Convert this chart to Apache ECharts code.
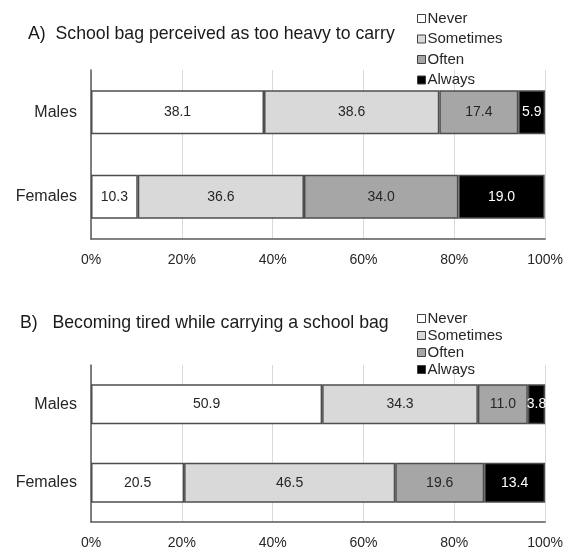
<!DOCTYPE html>
<html>
<head>
<meta charset="utf-8">
<script src="https://cdn.jsdelivr.net/npm/echarts@6/dist/echarts.min.js"></script>
<style>
  html, body { margin: 0; padding: 0; background: #fff; }
  #chart { width: 566px; height: 552px; }
</style>
</head>
<body>
<div id="chart"></div>
<script>
// Response categories and groups
const responses = ['Never', 'Sometimes', 'Often', 'Always'];
const groups = ['Males', 'Females'];
const xTicks = ['0%', '20%', '40%', '60%', '80%', '100%'];

// A) School bag perceived as too heavy to carry (percent)
const heavyNever     = [38.1, 10.3];
const heavySometimes = [38.6, 36.6];
const heavyOften     = [17.4, 34.0];
const heavyAlways    = [5.9, 19.0];

// B) Becoming tired while carrying a school bag (percent)
const tiredNever     = [50.9, 20.5];
const tiredSometimes = [34.3, 46.5];
const tiredOften     = [11.0, 19.6];
const tiredAlways    = [3.8, 13.4];

const fills = ['#ffffff', '#d9d9d9', '#a6a6a6', '#000000'];
const labelColors = ['#262626', '#262626', '#262626', '#ffffff'];
const FONT = 'Liberation Sans, Arial, sans-serif';

function makeSeries(values, gridIdx) {
  return values.map((data, i) => ({
    name: responses[i],
    type: 'bar',
    stack: 'g' + gridIdx,
    xAxisIndex: gridIdx,
    yAxisIndex: gridIdx,
    barWidth: gridIdx === 0 ? 44 : 40,
    data: data,
    itemStyle: { color: fills[i], borderColor: '#4d4d4d', borderWidth: 1.5 },
    label: {
      show: true,
      position: 'inside',
      color: labelColors[i],
      fontFamily: FONT,
      fontSize: 14,
      formatter: p => p.value.toFixed(1)
    },
    emphasis: { disabled: true }
  }));
}

function xAxis(gridIdx) {
  return {
    type: 'value',
    gridIndex: gridIdx,
    min: 0, max: 100, interval: 20,
    axisLine: { show: true, lineStyle: { color: '#595959', width: 1.5 } },
    axisTick: { show: false },
    splitLine: { show: true, lineStyle: { color: '#d9d9d9', width: 1 } },
    axisLabel: {
      color: '#262626', fontFamily: FONT, fontSize: 14, margin: 14,
      formatter: v => xTicks[Math.round(v / 20)]
    }
  };
}

function yAxis(gridIdx) {
  return {
    type: 'category',
    gridIndex: gridIdx,
    data: groups,
    inverse: true,
    axisLine: { show: true, lineStyle: { color: '#595959', width: 1.5 } },
    axisTick: { show: false },
    axisLabel: { color: '#262626', fontFamily: FONT, fontSize: 16, margin: 14 }
  };
}

function legend(top, gap) {
  return {
    orient: 'vertical',
    left: 412,
    top: top,
    itemWidth: 8,
    itemHeight: 8,
    itemGap: gap,
    icon: 'rect',
    data: responses.map((r, i) => ({
      name: r,
      itemStyle: { color: fills[i], borderColor: '#404040', borderWidth: 1 }
    })),
    textStyle: {
      color: '#262626', fontFamily: FONT, fontSize: 15, lineHeight: 15,
      padding: [0, 0, 0, -3]
    },
    selectedMode: false
  };
}

const chart = echarts.init(document.getElementById('chart'));
chart.setOption({
  animation: false,
  backgroundColor: '#ffffff',
  title: [
    {
      text: 'A)  School bag perceived as too heavy to carry',
      left: 23, top: 20,
      textStyle: { color: '#1a1a1a', fontFamily: FONT, fontSize: 17.7, fontWeight: 'normal' }
    },
    {
      text: 'B)   Becoming tired while carrying a school bag',
      left: 15, top: 309,
      textStyle: { color: '#1a1a1a', fontFamily: FONT, fontSize: 17.7, fontWeight: 'normal' }
    }
  ],
  legend: [legend(6, 5.5), legend(306, 2)],
  grid: [
    { left: 91, right: 20, top: 70, height: 169 },
    { left: 91, right: 20, top: 365, height: 157 }
  ],
  xAxis: [xAxis(0), xAxis(1)],
  yAxis: [yAxis(0), yAxis(1)],
  series: [
    ...makeSeries([heavyNever, heavySometimes, heavyOften, heavyAlways], 0),
    ...makeSeries([tiredNever, tiredSometimes, tiredOften, tiredAlways], 1)
  ]
});
</script>
</body>
</html>
